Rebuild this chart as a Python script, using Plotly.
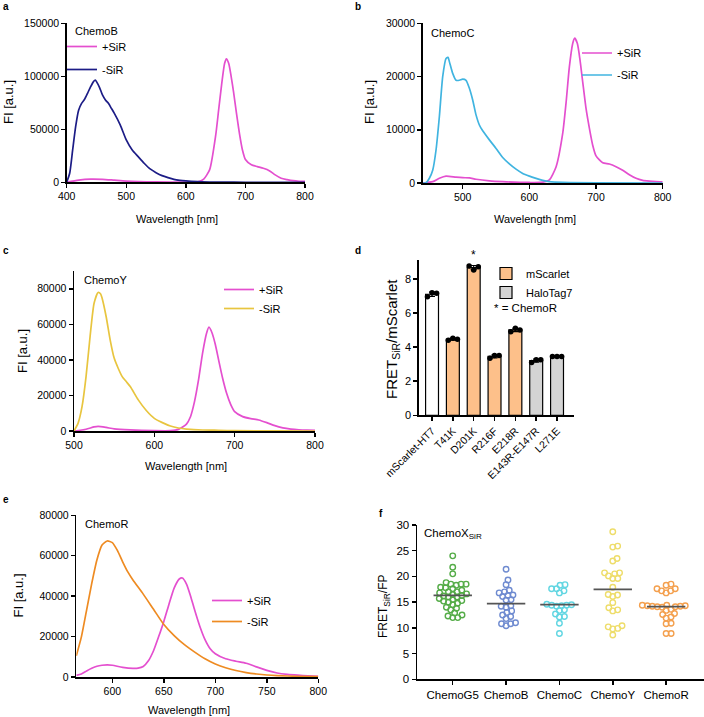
import numpy as np
import plotly.graph_objects as go

W, H = 704, 717
FONT = "Arial, Liberation Sans, Helvetica, sans-serif"

# ---------------- data ----------------
# (a) ChemoB spectra
a_plus_wl = [400, 420, 440, 460, 480, 500, 550, 600, 620, 630, 640, 650, 655, 660, 665, 668, 672, 676,
             680, 685, 690, 695, 700, 710, 720, 730, 740, 750, 760, 770, 780, 790, 800]
a_plus = [0, 2000, 3000, 2800, 2000, 1200, 400, 200, 500, 3000, 12000, 44000, 68000, 92000, 112000, 116500,
          112000, 100000, 85500, 65000, 46000, 30500, 21500, 16500, 14800, 13200, 11000, 7000, 3800, 2500,
          1500, 1000, 800]
a_minus_wl = [400, 405, 410, 415, 420, 425, 430, 435, 440, 445, 448, 450, 455, 460, 465, 470, 475, 480, 490,
              500, 510, 520, 530, 540, 550, 560, 570, 580, 590, 600, 620, 640, 660, 700, 750, 800]
a_minus = [0, 8500, 30500, 52500, 68000, 74500, 78300, 84000, 90000, 95000, 96500, 95000, 89600, 82400, 77700,
           74500, 69800, 65000, 54000, 40000, 30500, 24200, 18000, 12600, 9100, 6300, 4400, 2800, 1900, 1300,
           600, 300, 150, 50, 20, 0]

# (b) ChemoC spectra
b_plus_wl = [440, 455, 465, 475, 490, 500, 510, 520, 540, 560, 600, 620, 630, 640, 650, 655, 660, 665, 668,
             672, 676, 680, 685, 690, 695, 700, 710, 720, 730, 740, 750, 760, 770, 780, 790, 800]
b_plus = [0, 250, 900, 1300, 1100, 1000, 950, 700, 400, 250, 100, 150, 600, 3000, 9300, 15000, 21800, 26200,
          27200, 26200, 23100, 19000, 14000, 10300, 7100, 5100, 3800, 3570, 3070, 2380, 1560, 880, 500, 350,
          250, 200]
b_minus_wl = [440, 445, 450, 455, 460, 465, 470, 475, 478, 480, 485, 490, 495, 500, 505, 510, 515, 520, 525,
              530, 540, 550, 560, 570, 580, 590, 600, 610, 620, 630, 650, 700, 800]
b_minus = [0, 50, 900, 2400, 6200, 12500, 20000, 23400, 23600, 22800, 20600, 19300, 19300, 19500, 19300,
           17800, 15600, 12800, 10900, 9800, 8100, 6500, 4800, 3600, 2600, 1800, 1300, 880, 500, 250, 100, 20, 0]

# (c) ChemoY spectra
c_plus_wl = [500, 515, 525, 530, 540, 550, 570, 600, 620, 630, 640, 645, 650, 655, 660, 665, 668, 672, 676,
             680, 685, 690, 695, 700, 710, 720, 730, 740, 750, 760, 770, 780, 790, 800]
c_plus = [0, 1000, 2300, 2600, 2000, 1200, 600, 200, 200, 900, 3900, 8000, 16500, 28700, 43700, 55000, 58400,
          55000, 48500, 40000, 29700, 21200, 15000, 10900, 8100, 6950, 6200, 4700, 3000, 1800, 1100, 700, 500,
          400]
c_minus_wl = [500, 505, 510, 515, 520, 525, 530, 533, 535, 540, 545, 550, 555, 560, 565, 570, 580, 590, 600,
              610, 620, 630, 640, 660, 680, 700, 750, 800]
c_minus = [0, 4300, 13700, 30600, 53100, 71900, 77900, 77200, 74700, 64400, 51300, 41000, 35300, 30600, 27800,
           25000, 17500, 11500, 7100, 4700, 2800, 1700, 1100, 560, 400, 200, 50, 0]

# (e) ChemoR spectra
e_plus_wl = [565, 570, 575, 580, 585, 590, 595, 600, 610, 620, 625, 630, 635, 640, 645, 650, 655, 660, 665,
             668, 672, 676, 680, 685, 690, 695, 700, 710, 720, 730, 740, 750, 760, 770, 780, 790, 800]
e_plus = [800, 1500, 3000, 4300, 5300, 5800, 6000, 5800, 4800, 4300, 4400, 5200, 8000, 13000, 20000, 27500,
          36000, 44000, 48500, 49000, 46000, 40000, 33000, 25000, 18500, 14000, 11500, 9000, 7800, 6800, 5000,
          3300, 2000, 1300, 900, 600, 300]
e_minus_wl = [565, 570, 575, 580, 585, 590, 595, 600, 605, 610, 615, 620, 630, 640, 650, 660, 670, 680, 690,
              700, 710, 720, 730, 740, 750, 760, 780, 800]
e_minus = [10500, 20000, 33100, 46300, 57900, 65300, 67300, 66500, 62500, 57000, 52000, 48000, 41000, 33500,
           26000, 20500, 16000, 12300, 9000, 6400, 4600, 3200, 2200, 1500, 1000, 700, 330, 150]

# (d) FRET ratio of variants (three replicates each)
d_labels = ["mScarlet-HT7", "T41K", "D201K", "R216F", "E218R", "E143R-E147R", "L271E"]
d_groups = ["control", "mScarlet", "mScarlet", "mScarlet", "mScarlet", "HaloTag7", "HaloTag7"]
d_reps = [[6.95, 7.18, 7.15], [4.40, 4.52, 4.45], [8.75, 8.52, 8.70], [3.35, 3.50, 3.50],
          [4.90, 5.10, 5.00], [3.10, 3.25, 3.25], [3.45, 3.45, 3.45]]

# (f) FRET_SiR/FP per cell
f_cats = ["ChemoG5", "ChemoB", "ChemoC", "ChemoY", "ChemoR"]
f_g5 = [24.0, 21.8, 20.5, 18.8, 18.5, 18.5, 18.5, 18.3, 17.9, 17.8, 17.6, 17.3, 17.0, 17.0, 16.8, 16.6, 16.5,
        16.3, 16.2, 16.0, 16.0, 15.7, 15.5, 15.3, 15.2, 15.0, 14.8, 14.5, 14.0, 13.8, 13.5, 12.9, 12.5, 12.3,
        12.0, 12.0]
f_b = [21.4, 19.3, 18.4, 17.3, 17.0, 16.8, 16.4, 16.1, 16.3, 15.5, 15.4, 14.2, 14.0, 14.3, 13.3, 13.0, 12.5,
       12.2, 11.8, 11.0, 10.8, 10.8, 10.4]
f_c = [18.3, 18.4, 17.6, 17.6, 17.2, 16.8, 14.6, 14.5, 14.4, 14.4, 14.3, 14.2, 13.5, 13.4, 12.7, 12.2, 12.1,
       10.9, 8.9]
f_y = [28.7, 25.7, 25.9, 23.0, 23.5, 20.7, 19.6, 20.5, 20.7, 19.6, 20.1, 17.9, 16.1, 16.4, 16.5, 14.9, 13.9,
       13.3, 13.5, 9.8, 10.4, 9.9, 10.2, 8.6]
f_r = [18.5, 18.3, 17.6, 17.6, 17.2, 17.2, 16.8, 14.4, 14.4, 14.3, 14.3, 14.2, 14.2, 14.1, 14.1, 14.0, 13.6,
       13.4, 12.8, 12.6, 12.1, 11.9, 10.9, 10.8, 8.9, 8.9]
f_values = [f_g5, f_b, f_c, f_y, f_r]

# ---------------- style ----------------
MAGENTA = "#E44FCF"
NAVY = "#1C1C86"
CYAN = "#40B4E0"
YELLOW = "#E8C53F"
ORANGE = "#EE8B22"
BAR_COLORS = {"control": "white", "mScarlet": "#FDC08A", "HaloTag7": "#D4D4D4"}
F_COLORS = ["#55AC48", "#6F8BD0", "#62D6E2", "#EEDD6A", "#F4A04E"]


def px_x(p):
    return p / W


def px_y(p):
    return 1 - p / H


def axstyle(**kw):
    d = dict(showline=True, linecolor="black", linewidth=1.5, ticks="outside", ticklen=4, tickwidth=1.5,
             tickcolor="black", showgrid=False, zeroline=False, fixedrange=True, automargin=False,
             tickfont=dict(size=10.5, color="black", family=FONT))
    d.update(kw)
    return d


fig = go.Figure()


def spectrum(wl, val, color, name, xa, ya, legend):
    fig.add_trace(go.Scatter(x=wl, y=val, mode="lines", name=name, xaxis=xa, yaxis=ya, legend=legend,
                             line=dict(color=color, width=1.7, shape="spline", smoothing=0.6),
                             legendgroup=legend + name, hoverinfo="skip"))


spectrum(a_plus_wl, a_plus, MAGENTA, "+SiR", "x", "y", "legend")
spectrum(a_minus_wl, a_minus, NAVY, "-SiR", "x", "y", "legend")
spectrum(b_plus_wl, b_plus, MAGENTA, "+SiR", "x2", "y2", "legend2")
spectrum(b_minus_wl, b_minus, CYAN, "-SiR", "x2", "y2", "legend2")
spectrum(c_plus_wl, c_plus, MAGENTA, "+SiR", "x3", "y3", "legend3")
spectrum(c_minus_wl, c_minus, YELLOW, "-SiR", "x3", "y3", "legend3")
spectrum(e_plus_wl, e_plus, MAGENTA, "+SiR", "x5", "y5", "legend5")
spectrum(e_minus_wl, e_minus, ORANGE, "-SiR", "x5", "y5", "legend5")

# (d) bars by group
d_idx = np.arange(len(d_labels))
d_mean = np.array([np.mean(r) for r in d_reps])
d_sd = np.array([np.std(r, ddof=1) for r in d_reps])
for grp in ["control", "mScarlet", "HaloTag7"]:
    sel = [i for i, g in enumerate(d_groups) if g == grp]
    fig.add_trace(go.Bar(x=d_idx[sel], y=d_mean[sel], width=0.62, name=grp, xaxis="x4", yaxis="y4",
                         legend="legend4", showlegend=(grp != "control"), legendgroup=grp,
                         marker=dict(color=BAR_COLORS[grp], line=dict(color="black", width=1.2)),
                         error_y=dict(type="data", array=d_sd[sel], color="black", thickness=1.2, width=3),
                         hoverinfo="skip"))
jit = np.array([-0.22, 0.0, 0.22])
pts_x = np.concatenate([i + jit for i in d_idx])
pts_y = np.concatenate([np.array(r) for r in d_reps])
fig.add_trace(go.Scatter(x=pts_x, y=pts_y, mode="markers", xaxis="x4", yaxis="y4", showlegend=False,
                         marker=dict(color="black", size=5.5), hoverinfo="skip"))

# (f) beeswarm
F_X0, F_X1 = -0.67, 4.71
F_XPX = (W - 417) / (F_X1 - F_X0)
F_YPX = (679.3 - 525) / 30.0


def swarm(vals, d=5.0):
    vals = np.asarray(vals, float)
    order = np.argsort(vals)
    placed = []
    offs = np.zeros(len(vals))
    for i in order:
        y = vals[i] * F_YPX
        cands = [0.0]
        for xp, yp in placed:
            dy = y - yp
            if abs(dy) < d:
                dx = np.sqrt(d * d - dy * dy)
                cands += [xp + dx, xp - dx]
        cands.sort(key=abs)
        for c in cands:
            if all((c - xp) ** 2 + (y - yp) ** 2 >= d * d - 1e-6 for xp, yp in placed):
                break
        placed.append((c, y))
        offs[i] = c
    return offs / F_XPX


for k, vals in enumerate(f_values):
    fig.add_trace(go.Scatter(x=k + swarm(vals), y=vals, mode="markers", xaxis="x6", yaxis="y6",
                             showlegend=False, hoverinfo="skip",
                             marker=dict(symbol="circle-open", size=5.5, color=F_COLORS[k],
                                         line=dict(width=1.4, color=F_COLORS[k]))))
    m = float(np.mean(vals))
    fig.add_trace(go.Scatter(x=[k - 0.36, k + 0.36], y=[m, m], mode="lines", xaxis="x6", yaxis="y6",
                             showlegend=False, hoverinfo="skip", line=dict(color="#555555", width=1.8)))

# ---------------- layout ----------------
leg_common = dict(bgcolor="rgba(0,0,0,0)", borderwidth=0, font=dict(size=11, color="black", family=FONT),
                  xanchor="left", yanchor="top", itemwidth=30, tracegroupgap=3)

annotations = []


def ann(text, x, y, size=11, bold=False, angle=0, xanchor="center", yanchor="middle"):
    annotations.append(dict(text=("<b>%s</b>" % text) if bold else text, x=px_x(x), y=px_y(y), xref="paper",
                            yref="paper", showarrow=False, textangle=angle, xanchor=xanchor, yanchor=yanchor,
                            font=dict(size=size, color="black", family=FONT)))


for t, x, y in [("a", 6, 6), ("b", 358, 6), ("c", 6, 251), ("d", 358, 251), ("e", 6, 499), ("f", 381, 513)]:
    ann(t, x, y, size=10, bold=True)

ann("FI [a.u.]", 8, 102, size=13, angle=-90)
ann("Wavelength [nm]", 177, 219)
ann("FI [a.u.]", 369, 102, size=13, angle=-90)
ann("Wavelength [nm]", 535, 219)
ann("FI [a.u.]", 22, 351, size=13, angle=-90)
ann("Wavelength [nm]", 186, 466)
ann("FI [a.u.]", 17.5, 596, size=13, angle=-90)
ann("Wavelength [nm]", 188.5, 710)
ann("FRET<sub>SiR</sub>/mScarlet", 392, 339, size=15, angle=-90)
ann("FRET<sub>SiR</sub>/FP", 384, 606, size=12, angle=-90)

ann("ChemoB", 72.7, 31, xanchor="left")
ann("ChemoC", 429, 33, xanchor="left")
ann("ChemoY", 81.7, 280, xanchor="left")
ann("ChemoR", 82.7, 524, xanchor="left")
ann("ChemoX<sub>SiR</sub>", 422, 534, size=11.5, xanchor="left")
ann("* = ChemoR", 492, 308, size=11.5, xanchor="left")

annotations.append(dict(text="*", x=2, y=8.85, xref="x4", yref="y4", showarrow=False, yanchor="bottom",
                        font=dict(size=12, color="black", family=FONT)))

fig.update_layout(
    width=W, height=H, margin=dict(l=0, r=0, t=0, b=0, autoexpand=False), paper_bgcolor="white",
    plot_bgcolor="white", font=dict(family=FONT, color="black"), barmode="overlay", showlegend=True,
    xaxis=axstyle(domain=[px_x(66.7), px_x(305)], range=[400, 800], dtick=100, tick0=400, anchor="y"),
    yaxis=axstyle(domain=[px_y(182.3), px_y(23.3)], range=[0, 150000], dtick=50000, tickformat="d", anchor="x"),
    xaxis2=axstyle(domain=[px_x(422.7), px_x(662.7)], range=[440, 800], tickvals=[500, 600, 700, 800],
                   anchor="y2"),
    yaxis2=axstyle(domain=[px_y(183), px_y(23.3)], range=[0, 30000], dtick=10000, tickformat="d", anchor="x2"),
    xaxis3=axstyle(domain=[px_x(74), px_x(315)], range=[500, 800], dtick=100, tick0=500, anchor="y3"),
    yaxis3=axstyle(domain=[px_y(431), px_y(271)], range=[0, 90000], tickvals=[0, 20000, 40000, 60000, 80000],
                   tickformat="d", anchor="x3"),
    xaxis4=axstyle(domain=[px_x(418.7), px_x(573.7)], range=[-0.64, 6.8], tickvals=list(d_idx),
                   ticktext=d_labels, tickangle=-45, anchor="y4"),
    yaxis4=axstyle(domain=[px_y(415.3), px_y(260)], range=[0, 9.1], tickvals=[0, 2, 4, 6, 8], anchor="x4",
                   tickfont=dict(size=11, color="black", family=FONT)),
    xaxis5=axstyle(domain=[px_x(76.3), px_x(318.3)], range=[565, 800], tickvals=[600, 650, 700, 750, 800],
                   anchor="y5"),
    yaxis5=axstyle(domain=[px_y(677), px_y(515.3)], range=[0, 80000], dtick=20000, tickformat="d", anchor="x5"),
    xaxis6=axstyle(domain=[px_x(417), 1.0], range=[F_X0, F_X1], tickvals=list(range(5)), ticktext=f_cats,
                   tickangle=0, anchor="y6", tickfont=dict(size=11.5, color="black", family=FONT)),
    yaxis6=axstyle(domain=[px_y(679.3), px_y(525)], range=[0, 30], dtick=5, anchor="x6",
                   tickfont=dict(size=11.5, color="black", family=FONT)),
    legend=dict(leg_common, x=px_x(62), y=px_y(32), tracegroupgap=4),
    legend2=dict(leg_common, x=px_x(577), y=px_y(38.5)),
    legend3=dict(leg_common, x=px_x(219), y=px_y(275), tracegroupgap=0),
    legend4=dict(leg_common, x=px_x(486), y=px_y(259), tracegroupgap=0),
    legend5=dict(leg_common, x=px_x(207), y=px_y(586), tracegroupgap=2),
    annotations=annotations,
)

fig.write_html("out.html", config={"displayModeBar": False, "staticPlot": True},
               post_script="document.body.style.margin='0';document.body.style.overflow='hidden';")
